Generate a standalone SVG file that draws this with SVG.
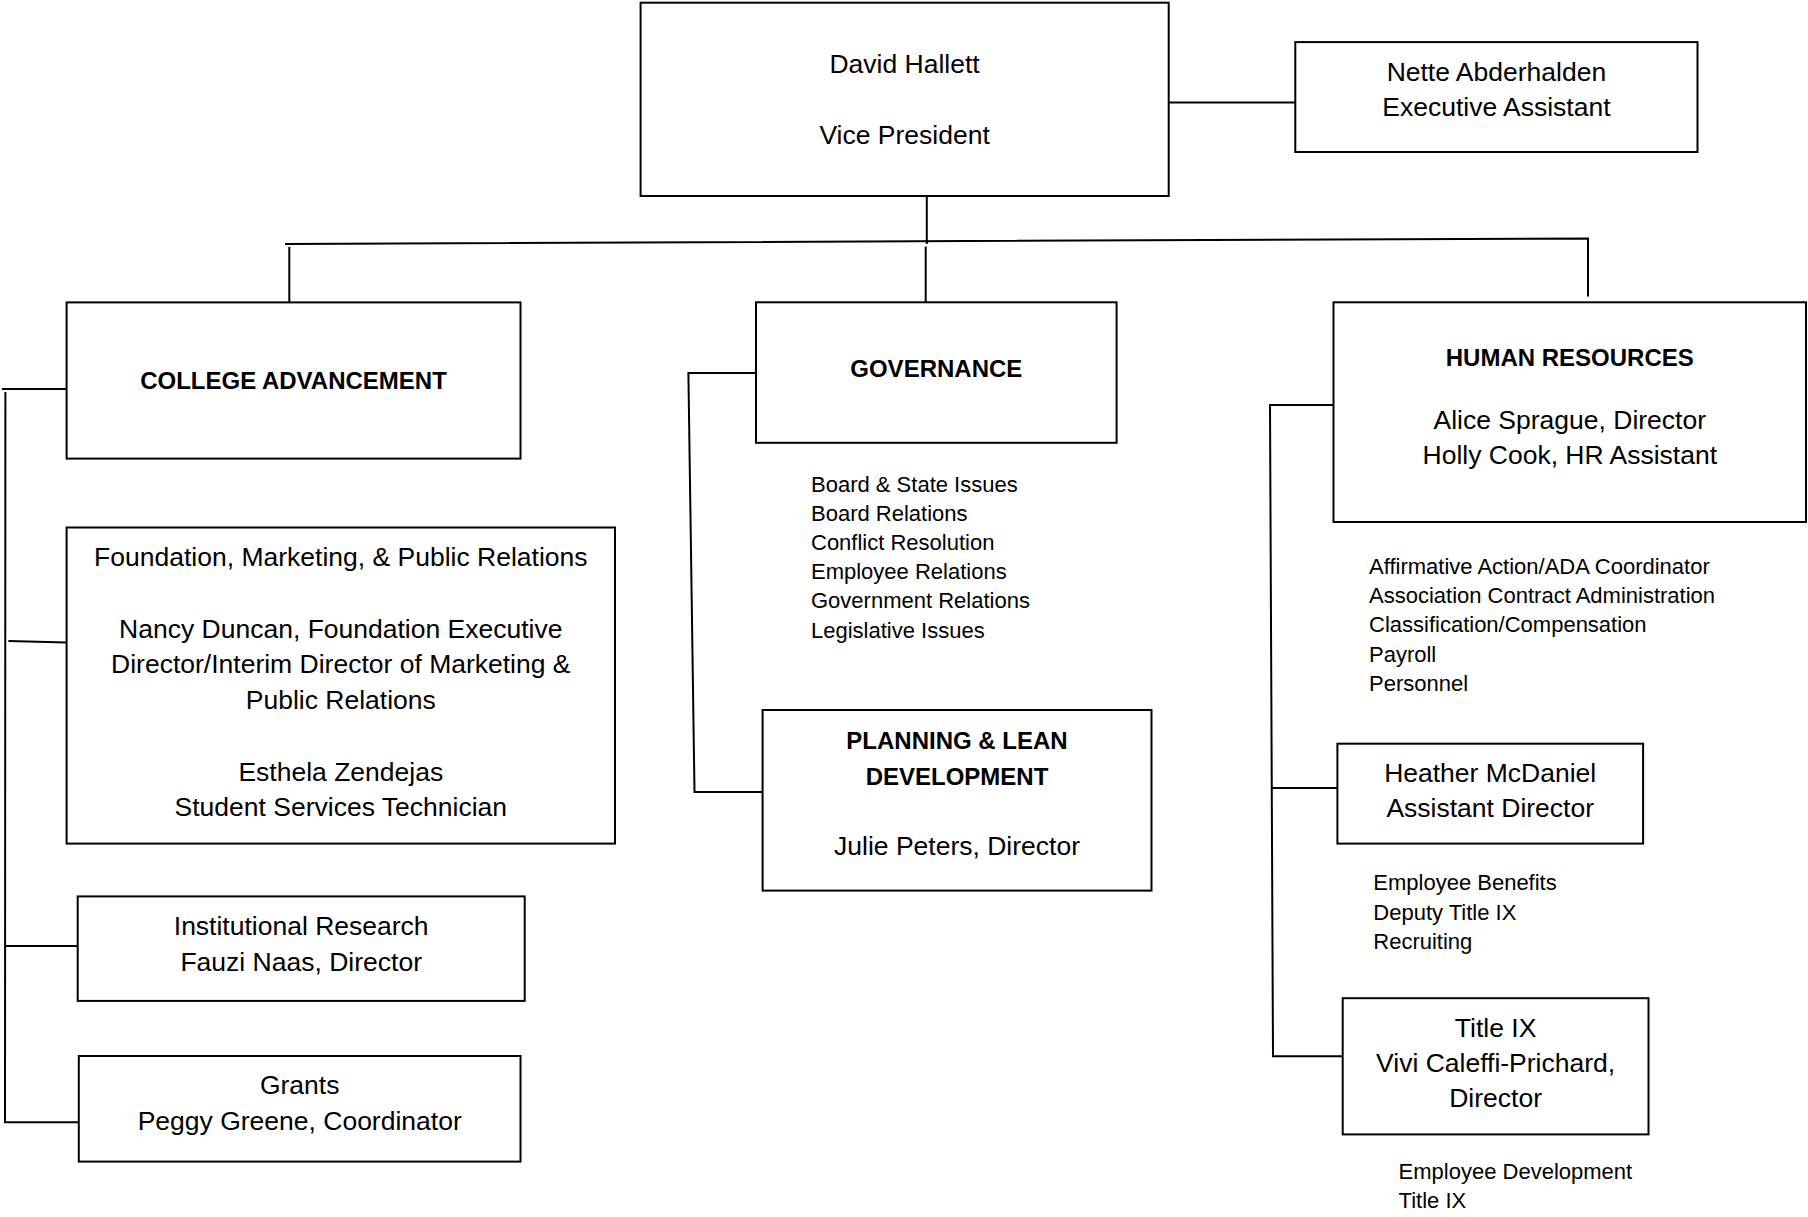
<svg xmlns="http://www.w3.org/2000/svg" width="1808" height="1217" viewBox="0 0 1808 1217">
<style>
  .box { fill: #ffffff; stroke: #000000; stroke-width: 2; }
  .conn { fill: none; stroke: #000000; stroke-width: 2; }
  text { font-family: "Liberation Sans", Arial, sans-serif; fill: #000000; }
  .t { font-size: 26.5px; text-anchor: middle; }
  .h { font-size: 24px; font-weight: bold; text-anchor: middle; }
  .b { font-size: 22px; }
</style>
<rect x="0" y="0" width="1808" height="1217" fill="#ffffff"/>

<g id="connectors">
  <path class="conn" d="M1168.7 102.6 H1295.3"/>
  <path class="conn" d="M926.8 196 V244"/>
  <path class="conn" d="M285 244 L1588 238.4 V296.6"/>
  <path class="conn" d="M289.3 247 V304"/>
  <path class="conn" d="M925.7 246.5 V302.3"/>
  <path class="conn" d="M2 389 H66.6"/>
  <path class="conn" d="M5.4 392 L5 1122.2 H78.8"/>
  <path class="conn" d="M8.4 641 L66.6 642.6"/>
  <path class="conn" d="M4.6 946 H80.4"/>
  <path class="conn" d="M756 373 H688.4 L694.5 792 H762.6"/>
  <path class="conn" d="M1336 405 H1270 L1273 1056.3 H1342.7"/>
  <path class="conn" d="M1271.5 788 H1337.4"/>
</g>

<g id="vp">
  <rect class="box" x="640.6" y="2.7" width="528.1" height="193.3"/>
  <text class="t" x="904.6" y="72.7">David Hallett</text>
  <text class="t" x="904.6" y="144.3">Vice President</text>
</g>

<g id="exec-assistant">
  <rect class="box" x="1295.3" y="42.1" width="402.2" height="109.9"/>
  <text class="t" x="1496.4" y="81.1">Nette Abderhalden</text>
  <text class="t" x="1496.4" y="115.6">Executive Assistant</text>
</g>

<g id="college-advancement">
  <rect class="box" x="66.6" y="302.4" width="453.9" height="156.2"/>
  <text class="h" x="293.5" y="388.5">COLLEGE ADVANCEMENT</text>
</g>

<g id="foundation">
  <rect class="box" x="66.6" y="527.5" width="548.4" height="316.1"/>
  <text class="t" x="340.8" y="565.7">Foundation, Marketing, &amp; Public Relations</text>
  <text class="t" x="340.8" y="637.5">Nancy Duncan, Foundation Executive</text>
  <text class="t" x="340.8" y="673">Director/Interim Director of Marketing &amp;</text>
  <text class="t" x="340.8" y="708.5">Public Relations</text>
  <text class="t" x="340.8" y="780.5">Esthela Zendejas</text>
  <text class="t" x="340.8" y="815.8">Student Services Technician</text>
</g>

<g id="institutional-research">
  <rect class="box" x="77.7" y="896.4" width="447" height="104.5"/>
  <text class="t" x="301.2" y="934.6">Institutional Research</text>
  <text class="t" x="301.2" y="971">Fauzi Naas, Director</text>
</g>

<g id="grants">
  <rect class="box" x="78.8" y="1056" width="441.7" height="105.6"/>
  <text class="t" x="299.7" y="1093.5">Grants</text>
  <text class="t" x="299.7" y="1129.8">Peggy Greene, Coordinator</text>
</g>

<g id="governance">
  <rect class="box" x="756" y="302.3" width="360.6" height="140.5"/>
  <text class="h" x="936.3" y="377">GOVERNANCE</text>
</g>

<g id="governance-duties">
  <text class="b" x="811" y="491.8">Board &amp; State Issues</text>
  <text class="b" x="811" y="521">Board Relations</text>
  <text class="b" x="811" y="550">Conflict Resolution</text>
  <text class="b" x="811" y="579">Employee Relations</text>
  <text class="b" x="811" y="608">Government Relations</text>
  <text class="b" x="811" y="637.5">Legislative Issues</text>
</g>

<g id="planning">
  <rect class="box" x="762.6" y="710" width="388.9" height="180.6"/>
  <text class="h" x="957" y="749">PLANNING &amp; LEAN</text>
  <text class="h" x="957" y="784.6">DEVELOPMENT</text>
  <text class="t" x="957" y="855">Julie Peters, Director</text>
</g>

<g id="human-resources">
  <rect class="box" x="1333.5" y="302.3" width="472.5" height="219.7"/>
  <text class="h" x="1569.8" y="366.2">HUMAN RESOURCES</text>
  <text class="t" x="1569.8" y="428.6">Alice Sprague, Director</text>
  <text class="t" x="1569.8" y="463.8">Holly Cook, HR Assistant</text>
</g>

<g id="hr-duties">
  <text class="b" x="1369" y="574">Affirmative Action/ADA Coordinator</text>
  <text class="b" x="1369" y="603">Association Contract Administration</text>
  <text class="b" x="1369" y="632.3">Classification/Compensation</text>
  <text class="b" x="1369" y="661.8">Payroll</text>
  <text class="b" x="1369" y="690.5">Personnel</text>
</g>

<g id="assistant-director">
  <rect class="box" x="1337.4" y="743.7" width="305.7" height="99.9"/>
  <text class="t" x="1490.2" y="781.6">Heather McDaniel</text>
  <text class="t" x="1490.2" y="816.8">Assistant Director</text>
</g>

<g id="assistant-director-duties">
  <text class="b" x="1373.3" y="889.9">Employee Benefits</text>
  <text class="b" x="1373.3" y="919.5">Deputy Title IX</text>
  <text class="b" x="1373.3" y="948.5">Recruiting</text>
</g>

<g id="title-ix">
  <rect class="box" x="1342.7" y="998.2" width="305.8" height="136.2"/>
  <text class="t" x="1495.6" y="1036.8">Title IX</text>
  <text class="t" x="1495.6" y="1072.4">Vivi Caleffi-Prichard,</text>
  <text class="t" x="1495.6" y="1106.9">Director</text>
</g>

<g id="title-ix-duties">
  <text class="b" x="1398.6" y="1178.8">Employee Development</text>
  <text class="b" x="1398.6" y="1208.3">Title IX</text>
</g>
</svg>
